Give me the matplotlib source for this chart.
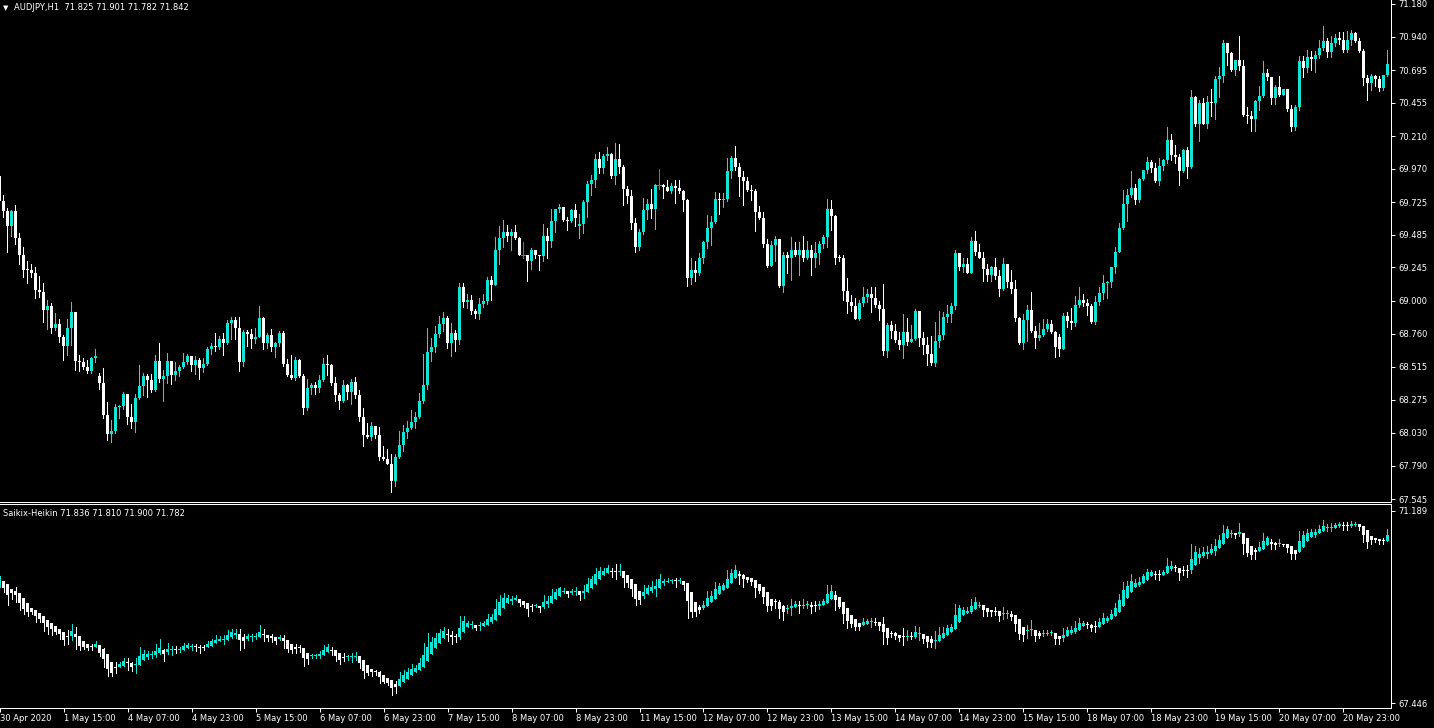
import numpy as np
import matplotlib
matplotlib.use("Agg")
import matplotlib.pyplot as plt

# AUDJPY H1, bars from 30 Apr 2020 23:00
closes = [
    69.730, 69.657, 69.546, 69.657, 69.458, 69.340, 69.230, 69.223, 69.208, 69.083,
    69.068, 68.936, 68.965, 68.803, 68.833, 68.737, 68.671, 68.803, 68.921, 68.560,
    68.553, 68.516, 68.487, 68.583, 68.597, 68.399, 68.163, 68.023, 68.045, 68.222,
    68.229, 68.318, 68.148, 68.112, 68.288, 68.376, 68.450, 68.421, 68.347, 68.560,
    68.428, 68.450, 68.560, 68.457, 68.487, 68.516, 68.553, 68.597, 68.531, 68.568,
    68.509, 68.538, 68.649, 68.671, 68.663, 68.722, 68.693, 68.840, 68.862, 68.803,
    68.553, 68.774, 68.759, 68.722, 68.737, 68.877, 68.693, 68.752, 68.663, 68.693,
    68.766, 68.538, 68.457, 68.435, 68.568, 68.450, 68.215, 68.362, 68.384, 68.362,
    68.421, 68.538, 68.531, 68.399, 68.310, 68.266, 68.384, 68.332, 68.406, 68.310,
    68.148, 68.016, 68.001, 68.082, 68.016, 67.854, 67.839, 67.802, 67.677, 67.854,
    67.942, 68.038, 68.067, 68.112, 68.148, 68.266, 68.384, 68.627, 68.663, 68.759,
    68.833, 68.877, 68.693, 68.766, 68.715, 69.105, 68.995, 69.009, 68.928, 68.906,
    68.980, 69.002, 69.156, 69.120, 69.370, 69.458, 69.502, 69.473, 69.502, 69.458,
    69.340, 69.340, 69.296, 69.370, 69.340, 69.326, 69.473, 69.443, 69.583, 69.671,
    69.686, 69.590, 69.583, 69.664, 69.605, 69.561, 69.723, 69.856, 69.885, 70.039,
    69.973, 70.061, 70.076, 69.914, 70.039, 69.981, 69.819, 69.767, 69.568, 69.392,
    69.502, 69.664, 69.708, 69.671, 69.848, 69.848, 69.833, 69.804, 69.841, 69.826,
    69.804, 69.738, 69.171, 69.230, 69.201, 69.318, 69.429, 69.532, 69.576, 69.745,
    69.738, 69.745, 69.951, 70.047, 69.981, 69.907, 69.878, 69.811, 69.804, 69.649,
    69.605, 69.421, 69.259, 69.407, 69.451, 69.112, 69.340, 69.311, 69.377, 69.340,
    69.377, 69.318, 69.370, 69.311, 69.348, 69.421, 69.466, 69.671, 69.620, 69.318,
    69.311, 69.075, 68.995, 68.965, 68.869, 68.987, 69.031, 69.053, 69.024, 68.973,
    68.943, 68.634, 68.825, 68.781, 68.715, 68.678, 68.774, 68.700, 68.722, 68.928,
    68.730, 68.678, 68.612, 68.546, 68.708, 68.752, 68.884, 68.906, 68.965, 69.348,
    69.245, 69.267, 69.208, 69.443, 69.362, 69.318, 69.237, 69.193, 69.245, 69.186,
    69.090, 69.267, 69.142, 69.090, 68.877, 68.693, 68.862, 68.936, 68.781, 68.730,
    68.752, 68.796, 68.833, 68.774, 68.663, 68.649, 68.892, 68.855, 68.840, 68.973,
    69.009, 68.987, 68.965, 68.847, 68.995, 69.061, 69.134, 69.142, 69.252, 69.362,
    69.532, 69.708, 69.775, 69.826, 69.738, 69.892, 69.958, 70.017, 69.973, 69.878,
    69.988, 70.032, 70.179, 70.069, 70.054, 69.951, 70.106, 69.981, 70.496, 70.297,
    70.452, 70.297, 70.459, 70.452, 70.628, 70.650, 70.893, 70.819, 70.694, 70.768,
    70.724, 70.363, 70.356, 70.334, 70.466, 70.503, 70.672, 70.643, 70.488, 70.569,
    70.510, 70.555, 70.407, 70.275, 70.422, 70.761, 70.709, 70.790, 70.775, 70.805,
    70.856, 70.908, 70.827, 70.893, 70.930, 70.915, 70.841, 70.915, 70.967, 70.908,
    70.834, 70.636, 70.599, 70.650, 70.628, 70.562, 70.658, 70.738,
]
highs = [
    69.929, 69.775, 69.679, 69.664, 69.701, 69.495, 69.392, 69.296, 69.274, 69.245,
    69.186, 69.134, 69.009, 68.987, 68.914, 68.869, 68.752, 68.869, 68.995, 68.921,
    68.605, 68.583, 68.568, 68.590, 68.649, 68.472, 68.509, 68.259, 68.126, 68.244,
    68.237, 68.332, 68.318, 68.244, 68.318, 68.531, 68.472, 68.465, 68.465, 68.605,
    68.693, 68.494, 68.619, 68.560, 68.553, 68.531, 68.619, 68.612, 68.597, 68.597,
    68.583, 68.583, 68.663, 68.693, 68.766, 68.744, 68.766, 68.862, 68.884, 68.884,
    68.884, 68.789, 68.789, 68.796, 68.803, 68.965, 68.884, 68.766, 68.796, 68.700,
    68.781, 68.781, 68.575, 68.605, 68.590, 68.575, 68.465, 68.428, 68.399, 68.406,
    68.457, 68.583, 68.605, 68.538, 68.443, 68.325, 68.421, 68.391, 68.428, 68.443,
    68.347, 68.215, 68.104, 68.112, 68.082, 68.075, 67.935, 67.913, 67.876, 67.876,
    68.045, 68.090, 68.119, 68.200, 68.185, 68.325, 68.612, 68.803, 68.730, 68.818,
    68.892, 68.921, 68.892, 68.840, 68.789, 69.134, 69.134, 69.053, 69.046, 68.943,
    69.024, 69.053, 69.178, 69.186, 69.466, 69.546, 69.590, 69.554, 69.524, 69.554,
    69.466, 69.429, 69.340, 69.385, 69.377, 69.340, 69.561, 69.532, 69.671, 69.671,
    69.708, 69.679, 69.613, 69.671, 69.708, 69.635, 69.738, 69.878, 69.922, 70.076,
    70.091, 70.076, 70.128, 70.084, 70.157, 70.150, 69.995, 69.841, 69.811, 69.605,
    69.524, 69.752, 69.745, 69.819, 69.856, 69.966, 69.856, 69.885, 69.863, 69.885,
    69.885, 69.811, 69.745, 69.318, 69.296, 69.348, 69.436, 69.627, 69.620, 69.797,
    69.789, 69.789, 70.047, 70.061, 70.135, 70.010, 69.951, 69.907, 69.848, 69.819,
    69.694, 69.649, 69.451, 69.436, 69.473, 69.451, 69.355, 69.362, 69.466, 69.429,
    69.429, 69.473, 69.436, 69.407, 69.429, 69.443, 69.480, 69.745, 69.738, 69.627,
    69.340, 69.340, 69.171, 69.046, 69.024, 69.009, 69.105, 69.090, 69.105, 69.098,
    69.002, 69.127, 68.840, 68.855, 68.833, 68.774, 68.906, 68.877, 68.825, 68.943,
    68.928, 68.774, 68.737, 68.744, 68.847, 68.928, 68.921, 68.973, 68.987, 69.377,
    69.348, 69.318, 69.311, 69.466, 69.510, 69.414, 69.355, 69.267, 69.259, 69.318,
    69.223, 69.311, 69.267, 69.230, 69.156, 68.884, 68.906, 68.973, 69.068, 68.818,
    68.840, 68.869, 68.869, 68.862, 68.781, 68.759, 68.914, 68.921, 68.950, 69.038,
    69.098, 69.053, 69.017, 68.980, 69.038, 69.105, 69.193, 69.149, 69.252, 69.399,
    69.568, 69.811, 69.819, 69.951, 69.856, 69.900, 69.958, 70.054, 70.032, 70.010,
    70.047, 70.039, 70.275, 70.223, 70.142, 70.076, 70.113, 70.128, 70.547, 70.504,
    70.474, 70.488, 70.504, 70.555, 70.650, 70.716, 70.915, 70.893, 70.827, 70.768,
    70.945, 70.768, 70.422, 70.393, 70.474, 70.577, 70.761, 70.701, 70.643, 70.584,
    70.650, 70.555, 70.547, 70.437, 70.437, 70.797, 70.797, 70.841, 70.834, 70.834,
    70.915, 71.018, 70.930, 70.945, 70.959, 70.974, 70.974, 70.981, 70.989, 70.974,
    70.930, 70.849, 70.658, 70.665, 70.658, 70.650, 70.658, 70.841,
]
lows = [
    69.716, 69.613, 69.362, 69.473, 69.414, 69.267, 69.178, 69.134, 69.178, 69.024,
    69.031, 68.847, 68.796, 68.766, 68.789, 68.700, 68.568, 68.605, 68.678, 68.494,
    68.487, 68.502, 68.472, 68.472, 68.553, 68.354, 68.141, 67.979, 67.964, 68.031,
    68.141, 68.207, 68.097, 68.067, 68.038, 68.281, 68.310, 68.295, 68.332, 68.340,
    68.406, 68.266, 68.399, 68.391, 68.421, 68.450, 68.509, 68.538, 68.487, 68.465,
    68.428, 68.479, 68.531, 68.612, 68.634, 68.649, 68.605, 68.685, 68.722, 68.722,
    68.487, 68.524, 68.671, 68.656, 68.693, 68.737, 68.649, 68.656, 68.634, 68.590,
    68.671, 68.524, 68.450, 68.428, 68.421, 68.443, 68.170, 68.200, 68.318, 68.318,
    68.332, 68.413, 68.457, 68.384, 68.266, 68.207, 68.259, 68.281, 68.244, 68.288,
    68.119, 67.935, 67.994, 67.979, 67.994, 67.832, 67.832, 67.802, 67.596, 67.641,
    67.847, 67.898, 67.994, 68.060, 68.067, 68.141, 68.251, 68.354, 68.560, 68.627,
    68.737, 68.781, 68.656, 68.597, 68.634, 68.685, 68.958, 68.950, 68.906, 68.877,
    68.869, 68.958, 68.980, 69.009, 69.120, 69.274, 69.399, 69.443, 69.370, 69.451,
    69.333, 69.318, 69.149, 69.237, 69.318, 69.223, 69.296, 69.311, 69.399, 69.502,
    69.649, 69.583, 69.517, 69.576, 69.546, 69.458, 69.495, 69.613, 69.775, 69.833,
    69.936, 69.936, 70.032, 69.900, 69.856, 69.936, 69.701, 69.716, 69.524, 69.355,
    69.377, 69.488, 69.598, 69.605, 69.524, 69.819, 69.752, 69.804, 69.789, 69.716,
    69.789, 69.657, 69.112, 69.127, 69.149, 69.193, 69.281, 69.385, 69.407, 69.568,
    69.635, 69.686, 69.730, 69.900, 69.958, 69.767, 69.701, 69.804, 69.738, 69.510,
    69.598, 69.392, 69.245, 69.259, 69.296, 69.105, 69.068, 69.208, 69.156, 69.326,
    69.193, 69.289, 69.304, 69.193, 69.245, 69.274, 69.385, 69.399, 69.517, 69.267,
    69.296, 69.009, 68.914, 68.928, 68.869, 68.862, 68.965, 68.995, 68.921, 68.958,
    68.862, 68.605, 68.590, 68.730, 68.700, 68.649, 68.583, 68.678, 68.700, 68.715,
    68.671, 68.612, 68.531, 68.531, 68.524, 68.663, 68.722, 68.847, 68.847, 68.943,
    69.223, 69.215, 69.201, 69.201, 69.333, 69.311, 69.149, 69.149, 69.149, 69.164,
    69.038, 69.083, 69.105, 69.061, 68.855, 68.685, 68.649, 68.708, 68.774, 68.656,
    68.715, 68.744, 68.781, 68.766, 68.590, 68.597, 68.649, 68.811, 68.796, 68.818,
    68.958, 68.965, 68.899, 68.840, 68.833, 68.973, 69.017, 69.024, 69.105, 69.208,
    69.355, 69.524, 69.583, 69.760, 69.708, 69.723, 69.885, 69.936, 69.944, 69.870,
    69.848, 69.958, 70.010, 70.032, 70.010, 69.848, 69.944, 69.900, 69.973, 70.282,
    70.172, 70.297, 70.268, 70.356, 70.334, 70.496, 70.606, 70.731, 70.687, 70.657,
    70.694, 70.356, 70.305, 70.246, 70.246, 70.400, 70.496, 70.621, 70.444, 70.444,
    70.503, 70.510, 70.393, 70.246, 70.253, 70.400, 70.643, 70.680, 70.694, 70.680,
    70.783, 70.841, 70.790, 70.790, 70.871, 70.886, 70.827, 70.827, 70.878, 70.900,
    70.827, 70.584, 70.474, 70.547, 70.577, 70.540, 70.547, 70.650,
]
first_open = 69.914
gap_opens = {25: 68.450, 145: 69.546, 265: 68.737}  # Monday opens

date_labels = ["30 Apr 2020", "1 May 15:00", "4 May 07:00", "4 May 23:00", "5 May 15:00",
               "6 May 07:00", "6 May 23:00", "7 May 15:00", "8 May 07:00", "8 May 23:00",
               "11 May 15:00", "12 May 07:00", "12 May 23:00", "13 May 15:00", "14 May 07:00",
               "14 May 23:00", "15 May 15:00", "18 May 07:00", "18 May 23:00", "19 May 15:00",
               "20 May 07:00", "20 May 23:00"]
date_bars = [16 * k for k in range(len(date_labels))]
price_ticks = [71.180, 70.940, 70.695, 70.455, 70.210, 69.970, 69.725, 69.485,
               69.245, 69.000, 68.760, 68.515, 68.275, 68.030, 67.790, 67.545]
ha_ticks = [71.189, 67.446]

opens = [first_open] + closes[:-1]
for k, v in gap_opens.items():
    opens[k] = v

o = np.array(opens); h = np.array(highs); l = np.array(lows); c = np.array(closes)

# heikin ashi for the lower window
ha_c = (o + h + l + c) / 4
ha_o = np.zeros_like(ha_c)
ha_o[0] = (o[0] + c[0]) / 2
for i in range(1, len(ha_c)):
    ha_o[i] = (ha_o[i - 1] + ha_c[i - 1]) / 2
ha_h = np.maximum.reduce([h, ha_o, ha_c])
ha_l = np.minimum.reduce([l, ha_o, ha_c])

BULL = '#12e4d6'
BEAR = '#ffffff'
DOJI = '#00c800'
W, H = 1434, 728
PX = 72 / 100


def candles(ax, o, h, l, c, min_h):
    x = np.arange(len(c))
    eq = c == o
    col = np.where(c > o, BULL, BEAR).astype(object)
    col[eq] = DOJI
    ax.vlines(x, l, h, colors=list(col), linewidth=PX, antialiased=False)
    body = np.maximum(np.abs(c - o), min_h)
    m = ~eq
    ax.bar(x[m], body[m], bottom=np.minimum(o, c)[m], width=0.75,
           color=list(col[m]), linewidth=0, antialiased=False)
    if eq.any():
        ax.hlines(c[eq], x[eq] - 0.4, x[eq] + 0.4, colors=DOJI, linewidth=PX, antialiased=False)


fig = plt.figure(figsize=(W / 100, H / 100), dpi=100, facecolor='black')
ax1 = fig.add_axes([0, 1 - 502 / H, 1391 / W, 502 / H], facecolor='black')
ax2 = fig.add_axes([0, 1 - 708 / H, 1391 / W, 204 / H], facecolor='black')

candles(ax1, o, h, l, c, 0.0074)
candles(ax2, ha_o, ha_h, ha_l, ha_c, 0.0195)

for ax in (ax1, ax2):
    ax.set_xlim(0.25, 348)
    ax.yaxis.tick_right()
    ax.tick_params(axis='y', colors='white', labelsize=6, length=3, width=PX, pad=2)
    for s in ('left', 'top'):
        ax.spines[s].set_visible(False)
    for s in ('right', 'bottom'):
        ax.spines[s].set_color('white')
        ax.spines[s].set_linewidth(PX)

ax1.set_ylim(67.523, 71.209)
ax1.set_yticks(price_ticks)
ax1.set_yticklabels([f"{v:.3f}" for v in price_ticks])
ax1.set_xticks([])

ax2.spines['top'].set_visible(True)
ax2.spines['top'].set_color('white')
ax2.spines['top'].set_linewidth(PX)
ax2.set_ylim(67.349, 71.325)
ax2.set_yticks(ha_ticks)
ax2.set_yticklabels([f"{v:.3f}" for v in ha_ticks])
ax2.set_xticks(date_bars)
ax2.set_xticklabels(date_labels)
ax2.tick_params(axis='x', colors='white', labelsize=6, length=3, width=PX, pad=1)
for lab in ax2.get_xticklabels():
    lab.set_horizontalalignment('left')

fig.text(3 / W, 1 - 8 / H, "\u25bc", color='white', fontsize=5, va='center')
fig.text(14 / W, 1 - 8 / H, "AUDJPY,H1  71.825 71.901 71.782 71.842", color='white',
         fontsize=6, va='center')
fig.text(3 / W, 1 - 513 / H, "Saikix-Heikin 71.836 71.810 71.900 71.782", color='white',
         fontsize=6, va='center')

fig.savefig("out.png", dpi=100, facecolor='black')
